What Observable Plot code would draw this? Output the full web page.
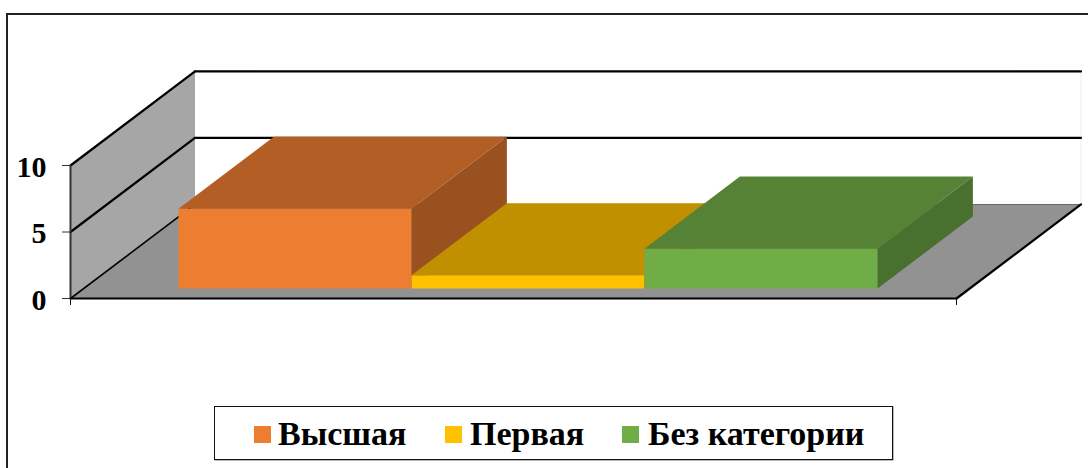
<!DOCTYPE html>
<html>
<head>
<meta charset="utf-8">
<script src="https://cdn.jsdelivr.net/npm/d3@7"></script>
<script src="https://cdn.jsdelivr.net/npm/@observablehq/plot@0.6"></script>
<style>
  html, body { margin: 0; padding: 0; background: #fff; width: 1088px; height: 468px; overflow: hidden; }
  #chart { position: relative; width: 1088px; height: 468px; overflow: hidden; }
  #frame { position: absolute; left: 6px; top: 13px; width: 1200px; height: 600px; border: 2px solid #222; box-sizing: border-box; }
  #plot { position: absolute; left: -0.5px; top: -0.5px; }
  #plot svg { display: block; background: transparent; }
  #legend { position: absolute; left: 214px; top: 406px; width: 679px; height: 54px; box-sizing: border-box; border: 1.5px solid #111; box-shadow: 0.5px 0.5px 0 #777; background: #fff;
    font: bold 34px "Liberation Serif", serif; color: #000; }
  #legend span { position: absolute; white-space: nowrap; line-height: 1; }
  #legend i { position: absolute; width: 17px; height: 17px; top: 18.5px; }
</style>
</head>
<body>
<div id="chart"><div id="frame"></div><div id="plot"></div><div id="legend"></div></div>
<script>
const categories = ["Высшая", "Первая", "Без категории"];
const values = [6, 1, 3];
const frontColors = ["#ED7D31", "#FFC000", "#70AD47"];
const topColors = ["#B35E25", "#C09000", "#558235"];
const sideColors = ["#9A5120", "#A67C00", "#49702E"];
const yTicks = [0, 5, 10];

// oblique projection of the 3-D box, in data units
const depthX = 0.1405;   // share of the category axis the floor shifts right at full depth
const depthY = 7.07;     // value units the floor shifts up at full depth
const barDepth = [0.106, 0.872];
const barWidth = 0.263;
const barStart = 0.107;
const topValue = 10;

const pt = (x, v, t) => ({x: x + depthX * t, y: v + depthY * t});
const face = (points, fill) => Plot.line(points, {x: "x", y: "y", fill, curve: "linear"});
const seg = (a, b, strokeWidth = 2, stroke = "#000") => Plot.line([a, b], {x: "x", y: "y", stroke, strokeWidth});

const marks = [
  // side wall and floor
  face([pt(0, 0, 0), pt(0, 0, 1), pt(0, topValue, 1), pt(0, topValue, 0)], "#A6A6A6"),
  face([pt(0, 0, 0), pt(0, 0, 1), pt(1, 0, 1), pt(1, 0, 0)], "#929292"),
  seg(pt(1, 0, 1), pt(1, topValue, 1), 1, "#eeeeee"),
  seg(pt(0, 0, 1), pt(1, 0, 1), 1, "#666666"),
  // gridlines running round wall and back
  ...yTicks.flatMap(v => [
    seg(pt(0, v, 0), pt(0, v, 1), v === 0 ? 1.6 : 2.2),
    ...(v === 0 ? [] : [seg(pt(0, v, 1), pt(1, v, 1), 2.2)])
  ]),
  seg(pt(0, 0, 0), pt(0, topValue, 0), 2, "#333"),
  seg(pt(1, 0, 0), pt(1, 0, 1), 2.2),
  seg(pt(0, 0, 0), pt(1, 0, 0), 2.2),
  // bars, painted left to right
  ...values.flatMap((v, i) => {
    const a = barStart + i * barWidth, b = a + barWidth;
    const [t0, t1] = barDepth;
    return [
      face([pt(a, 0, t0), pt(b, 0, t0), pt(b, v, t0), pt(a, v, t0)], frontColors[i]),
      face([pt(a, v, t0), pt(b, v, t0), pt(b, v, t1), pt(a, v, t1)], topColors[i]),
      face([pt(b, 0, t0), pt(b, 0, t1), pt(b, v, t1), pt(b, v, t0)], sideColors[i])
    ];
  }),
  Plot.axisY({ticks: yTicks, tickSize: 8, tickPadding: 16, fontSize: 30, fontWeight: "bold", fontFamily: "Liberation Serif", label: null, tickFormat: d => String(d), stroke: "#333"}),
  Plot.axisX({ticks: [0, 1], tickSize: 7, tickFormat: () => "", label: null, stroke: "#111"})
];

const chart = Plot.plot({
  width: 1088,
  height: 400,
  marginLeft: 70,
  marginRight: 0,
  marginTop: 0,
  marginBottom: 102,
  style: {background: "transparent", overflow: "visible"},
  x: {domain: [0, 1018 / 886], axis: null},
  y: {domain: [0, 298 / 13.3], axis: null},
  marks
});
document.getElementById("plot").append(chart);
// nudge the tick labels down a touch to sit as in the reference
chart.querySelectorAll('g[aria-label="y-axis tick label"] text').forEach(t => t.setAttribute("dy", "1.5"));

// legend
const legend = document.getElementById("legend");
const swatchLeft = [39, 230, 407];
const textLeft = [63, 255, 433];
categories.forEach((c, i) => {
  const sw = document.createElement("i");
  sw.style.left = swatchLeft[i] + "px";
  sw.style.background = frontColors[i];
  legend.append(sw);
  const t = document.createElement("span");
  t.textContent = c;
  t.style.left = textLeft[i] + "px";
  t.style.top = "10px";
  legend.append(t);
});
</script>
</body>
</html>
